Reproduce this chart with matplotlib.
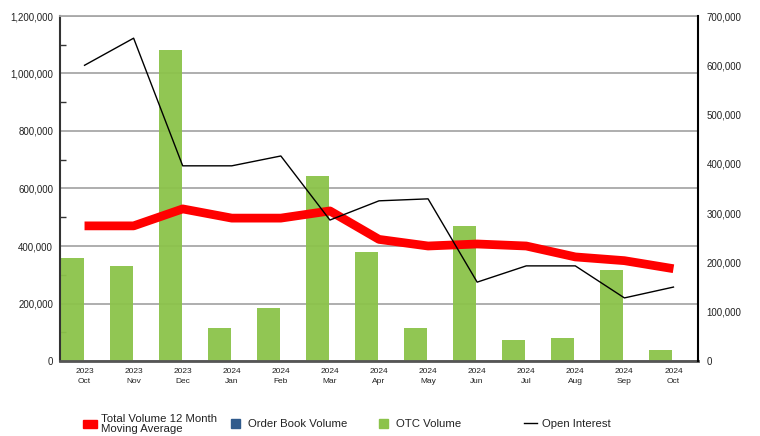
import matplotlib.pyplot as plt
import matplotlib.ticker as mticker
from matplotlib.patches import Patch
from matplotlib.lines import Line2D
import numpy as np

plt.rcParams['font.family'] = ['Liberation Sans', 'DejaVu Sans']

years = ["2023", "2023", "2023", "2024", "2024", "2024", "2024",
         "2024", "2024", "2024", "2024", "2024", "2024"]
months = ["Oct", "Nov", "Dec", "Jan", "Feb", "Mar", "Apr",
          "May", "Jun", "Jul", "Aug", "Sep", "Oct"]
otc_volume = [358000, 330000, 1082000, 115000, 184000, 643000, 379000,
              115000, 470000, 73000, 80000, 317000, 38000]
order_book_volume = [0, 0, 0, 0, 0, 0, 0, 0, 0, 0, 0, 0, 0]
moving_avg = [470000, 470000, 529000, 497000, 497000, 522000, 423000,
              400000, 407000, 400000, 362000, 349000, 321000]
open_interest = [600000, 655000, 396000, 396000, 416000, 286000, 325000,
                 329000, 160000, 193000, 193000, 128000, 150000]

green = '#8bc34a'
red = '#ff0000'
blue = '#2f5a8c'

x = np.arange(len(months))
fig = plt.figure(figsize=(7.6, 4.36), dpi=100)
ax = fig.add_axes([60/760, 75/436, 638/760, 345/436])

ax.set_axisbelow(True)
ax.yaxis.grid(True, color='#a8a8a8', linewidth=1.3)
ax.bar(x - 0.255, otc_volume, width=0.47, color=green, alpha=0.95, zorder=2)
ax.bar(x + 0.235, order_book_volume, width=0.47, color=blue, zorder=2)
ax.plot(x, moving_avg, color=red, linewidth=6.3, solid_capstyle='butt', zorder=3)

ax.set_xlim(-0.5, 12.5)
ax.set_ylim(0, 1200000)
ax.yaxis.set_major_locator(mticker.MultipleLocator(200000))
ax.yaxis.set_minor_locator(mticker.MultipleLocator(100000))
ax.yaxis.set_major_formatter(mticker.FuncFormatter(lambda v, p: f'{int(v):,}'))
ax.tick_params(axis='y', which='major', length=0, pad=5, labelsize=7, labelcolor='#222222')
ax.tick_params(axis='y', which='minor', length=4, direction='in', width=1, color='#333333')
ax.set_xticks(x)
ax.set_xticklabels([f'{y}\n{m}' for y, m in zip(years, months)], fontsize=6, linespacing=1.55)
ax.tick_params(axis='x', length=0, pad=5, labelcolor='#222222')
ax.spines['left'].set_color('#333333')
ax.spines['left'].set_linewidth(1.5)
ax.spines['bottom'].set_color('#555555')
ax.spines['bottom'].set_linewidth(2)
ax.spines['top'].set_color('#a8a8a8')
ax.spines['top'].set_linewidth(1.3)
ax.spines['right'].set_visible(False)

ax2 = ax.twinx()
ax2.plot(x, open_interest, color='black', linewidth=1)
ax2.set_ylim(0, 700000)
ax2.yaxis.set_major_locator(mticker.MultipleLocator(100000))
ax2.yaxis.set_major_formatter(mticker.FuncFormatter(lambda v, p: f'{int(v):,}'))
ax2.tick_params(axis='y', length=0, pad=6, labelsize=7, labelcolor='#222222')
ax2.spines['right'].set_color('black')
ax2.spines['right'].set_linewidth(1.5)
for s in ['top', 'left', 'bottom']:
    ax2.spines[s].set_visible(False)

# legend entries: handle, label, left px, handle length, handle height, text pad
handles = [
    (Patch(color=red), 'Total Volume 12 Month\nMoving Average', 83, 1.25, 0.6, 0.3),
    (Patch(color=blue), 'Order Book Volume', 231, 0.8, 0.8, 0.65),
    (Patch(color=green), 'OTC Volume', 379, 0.8, 0.8, 0.65),
    (Line2D([0], [0], color='black', linewidth=1), 'Open Interest', 524, 1.15, 0.8, 0.45),
]
for h, lab, px, hl, hh, tp in handles:
    leg = fig.legend(handles=[h], labels=[lab], loc='center left',
                     bbox_to_anchor=(px/760, 12/436), frameon=False,
                     fontsize=8.2, handlelength=hl, handleheight=hh,
                     handletextpad=tp, borderpad=0, borderaxespad=0)
    for t in leg.get_texts():
        t.set_linespacing(0.95)
        t.set_color('#222222')

fig.savefig('out.png', dpi=100)
